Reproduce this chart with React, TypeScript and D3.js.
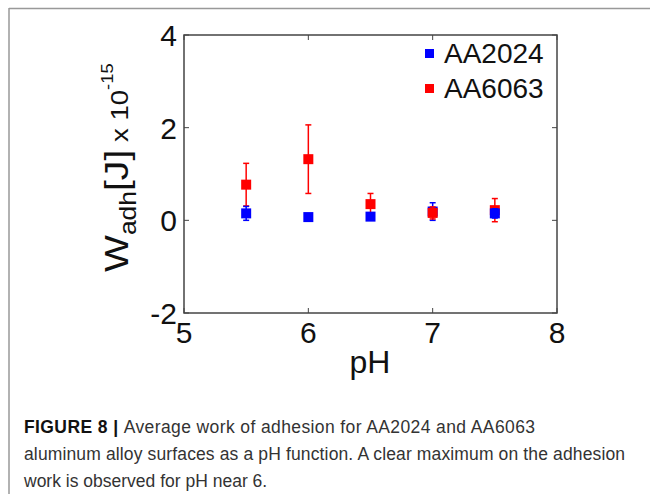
import * as d3 from "d3";

// pH values on the x axis
const phValues = [5.5, 6.0, 6.5, 7.0, 7.5];

// AA2024 (blue) mean and error, x 10^-15 J
const aa2024Mean = [0.15, 0.07, 0.08, 0.19, 0.15];
const aa2024Err = [0.15, 0.03, 0.03, 0.19, 0.1];

// AA6063 (red) mean and error
const aa6063Mean = [0.77, 1.32, 0.35, 0.16, 0.22];
const aa6063Err = [0.46, 0.74, 0.23, 0.13, 0.25];

// which series sits on top at each pH
const frontSeries = ["AA2024", "AA2024", "AA2024", "AA6063", "AA2024"];

const xTicks = [5, 6, 7, 8];
const yTicks = [-2, 0, 2, 4];

const series = [
  { name: "AA2024", color: "#0000ff", mean: aa2024Mean, err: aa2024Err },
  { name: "AA6063", color: "#ff0000", mean: aa6063Mean, err: aa6063Err },
];

const font = "'Liberation Sans', Arial, sans-serif";

export default function App() {
  const width = 650;
  const height = 494;
  const left = 184;
  const right = 557;
  const top = 35;
  const bottom = 313;

  const x = d3.scaleLinear().domain([5, 8]).range([left, right]);
  const y = d3.scaleLinear().domain([-2, 4]).range([bottom, top]);

  const marker = 10;
  const cap = 3;
  const tick = 5;

  const point = (s, i) => {
    const cx = x(phValues[i]);
    const m = s.mean[i];
    const e = s.err[i];
    return (
      <g key={s.name + i}>
        <line x1={cx} x2={cx} y1={y(m - e)} y2={y(m + e)} stroke={s.color} strokeWidth={1.5} />
        <line x1={cx - cap} x2={cx + cap} y1={y(m + e)} y2={y(m + e)} stroke={s.color} strokeWidth={1.5} />
        <line x1={cx - cap} x2={cx + cap} y1={y(m - e)} y2={y(m - e)} stroke={s.color} strokeWidth={1.5} />
        <rect x={cx - marker / 2} y={y(m) - marker / 2} width={marker} height={marker} fill={s.color} />
      </g>
    );
  };

  return (
    <svg
      width={width}
      height={height}
      style={{ position: "absolute", left: 0, top: 0, display: "block", background: "#fff" }}
    >
      {/* outer figure frame */}
      <line x1={9} x2={width} y1={8.5} y2={8.5} stroke="#999" strokeWidth={1.5} />
      <line x1={9} x2={9} y1={8} y2={height} stroke="#999" strokeWidth={1.5} />

      {/* plot box */}
      <rect x={left} y={top} width={right - left} height={bottom - top} fill="none" stroke="#444" strokeWidth={1.5} />

      {xTicks.map((t) => (
        <g key={"x" + t}>
          <line x1={x(t)} x2={x(t)} y1={bottom} y2={bottom - tick} stroke="#444" />
          <line x1={x(t)} x2={x(t)} y1={top} y2={top + tick} stroke="#444" />
          <text x={x(t)} y={343} textAnchor="middle" fontFamily={font} fontSize={30} fill="#111">
            {t}
          </text>
        </g>
      ))}
      {yTicks.map((t) => (
        <g key={"y" + t}>
          <line x1={left} x2={left + tick} y1={y(t)} y2={y(t)} stroke="#444" />
          <line x1={right} x2={right - tick} y1={y(t)} y2={y(t)} stroke="#444" />
          <text x={177} y={y(t) + 11} textAnchor="end" fontFamily={font} fontSize={30} fill="#111">
            {t}
          </text>
        </g>
      ))}

      {/* data points */}
      {phValues.map((_, i) => {
        const order = frontSeries[i] === "AA2024" ? [series[1], series[0]] : [series[0], series[1]];
        return <g key={"p" + i}>{order.map((s) => point(s, i))}</g>;
      })}

      {/* legend */}
      {series.map((s, i) => (
        <g key={"leg" + s.name}>
          <rect x={425} y={49 + i * 35} width={9} height={9} fill={s.color} />
          <text x={444} y={63 + i * 35} fontFamily={font} fontSize={28} fill="#111">
            {s.name}
          </text>
        </g>
      ))}

      {/* axis labels */}
      <text x={370} y={373} textAnchor="middle" fontFamily={font} fontSize={32} fill="#111">
        pH
      </text>
      <g transform="translate(128,272) rotate(-90) scale(1.15,1)">
        <text x={0} y={0} fontFamily={font} fill="#111">
          <tspan fontSize={34}>W</tspan>
          <tspan fontSize={23} dy={8}>adh</tspan>
          <tspan fontSize={34} dy={-8}>[J]</tspan>
          <tspan fontSize={24}> x 10</tspan>
          <tspan fontSize={16} dy={-15}>-15</tspan>
        </text>
      </g>

      {/* caption */}
      <text x={24} y={433} fontFamily={font} fontSize={17.5} fill="#333" textLength={511}>
        <tspan fontWeight="bold" fill="#111">FIGURE 8 | </tspan>
        Average work of adhesion for AA2024 and AA6063
      </text>
      <text x={24} y={460} fontFamily={font} fontSize={17.5} fill="#333" textLength={601}>
        aluminum alloy surfaces as a pH function. A clear maximum on the adhesion
      </text>
      <text x={24} y={487} fontFamily={font} fontSize={17.5} fill="#333">
        work is observed for pH near 6.
      </text>
    </svg>
  );
}
